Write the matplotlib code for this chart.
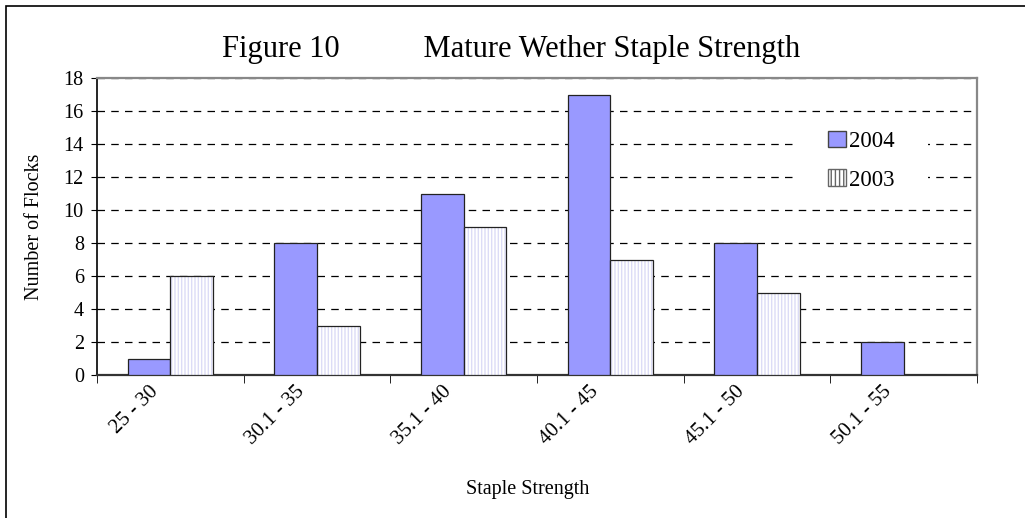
import numpy as np
from matplotlib import pyplot as plt
from matplotlib.patches import Rectangle, Patch
from matplotlib.transforms import ScaledTranslation

plt.rcParams['font.family'] = ['Liberation Serif', 'DejaVu Serif']

# data
categories = ['25 - 30', '30.1 - 35', '35.1 - 40', '40.1 - 45', '45.1 - 50', '50.1 - 55']
flocks_2004 = [1, 8, 11, 17, 8, 2]
flocks_2003 = [6, 3, 9, 7, 5, 0]

fig = plt.figure(figsize=(10.25, 5.18), dpi=100)
ax = fig.add_axes([97/1025, 1 - 375/518, 880/1025, 297/518])

# outer chart border (only left and top visible in the picture)
fig.patches.append(Rectangle((6/1025, -0.05), 1.2, 1 - 6/518 + 0.05,
                             transform=fig.transFigure, fill=False,
                             edgecolor='black', linewidth=1.2))

x = np.arange(len(categories))
w = 0.29

ax.bar(x - w/2, flocks_2004, w, color='#9999ff', edgecolor='#222222',
       linewidth=0.9, zorder=3)
ax.bar(x + w/2, flocks_2003, w, color='white', edgecolor='#dcdcf6',
       hatch='|||||', linewidth=0, zorder=3)
ax.bar(x + w/2, flocks_2003, w, fill=False, edgecolor='#222222',
       linewidth=0.9, zorder=4)

leg_2004 = Patch(facecolor='#9999ff', edgecolor='#444444', label='2004')
leg_2003 = Patch(facecolor='white', edgecolor='#666666', hatch='||||', label='2003')

ax.set_xlim(-0.5, len(categories) - 0.5)
ax.set_ylim(0, 18)
ax.set_yticks(np.arange(0, 19, 2))
ax.yaxis.grid(True, linestyle=(0, (6, 5)), color='black', linewidth=0.9)

ax.set_xticks(x)
ax.set_xticklabels(categories, rotation=45, ha='right', va='center',
                   rotation_mode='anchor', fontsize=15)
ax.tick_params(axis='x', length=0, pad=10)
shift = ScaledTranslation(-0.15, 0, fig.dpi_scale_trans)
for lab in ax.get_xticklabels():
    lab.set_transform(lab.get_transform() + shift)
ax.set_xticks(np.arange(-0.5, len(categories)), minor=True)
ax.tick_params(axis='x', which='minor', length=6, direction='out', color='black')
ax.tick_params(axis='y', labelsize=14.5, length=4.5, pad=5, direction='out')

for s in ['top', 'right']:
    ax.spines[s].set_color('#888888')
    ax.spines[s].set_linewidth(1.6)
ax.spines['bottom'].set_linewidth(1.6)
ax.spines['bottom'].set_color('#333333')
ax.spines['left'].set_linewidth(1.2)

ax.set_ylabel('Number of Flocks', fontsize=14.5, labelpad=14)
ax.set_xlabel('Staple Strength', fontsize=14.5)
ax.xaxis.set_label_coords(0.489, -0.352)

fig.text(0.499, 1 - 50/518, 'Figure 10           Mature Wether Staple Strength',
         fontsize=22, ha='center', va='center')

# white area behind the legend hides the gridlines there
ax.add_patch(Rectangle((0.795, 0.589), 0.149, 0.27, transform=ax.transAxes,
                       facecolor='white', edgecolor='none', zorder=2))
ax.legend(handles=[leg_2004, leg_2003], loc='upper left',
          bbox_to_anchor=(0.805, 0.90), frameon=False, fontsize=16.5,
          labelspacing=0.75, handlelength=0.75, handleheight=0.75,
          handletextpad=0.15, borderpad=0.5)

fig.savefig('out.png', dpi=100)
